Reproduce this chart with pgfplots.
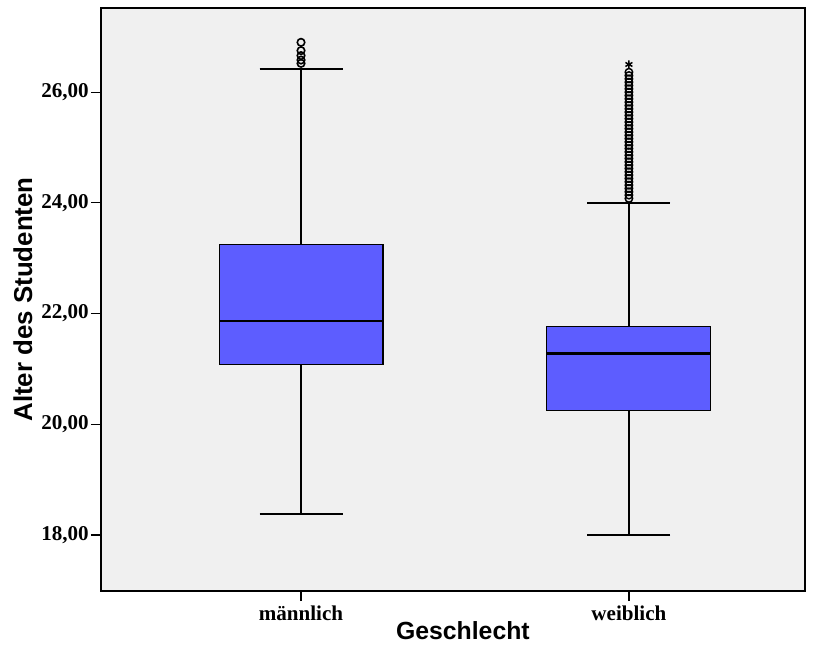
\documentclass[border=0pt]{standalone}
\usepackage{pgfplots}
\pgfplotsset{compat=1.18}
\usepgfplotslibrary{statistics}
\usepackage{fontspec}
\setmainfont{Liberation Serif}
\newfontfamily\arialfont{Liberation Sans}
\definecolor{boxblue}{RGB}{93,93,255}
\definecolor{bgray}{RGB}{240,240,240}
\begin{document}
\begin{tikzpicture}
\begin{axis}[
  scale only axis, width=528pt, height=437.25pt,
  xmin=0.39, xmax=2.537, ymin=16.99, ymax=27.52,
  boxplot/draw direction=y,
  axis background/.style={fill=bgray},
  xtick={1,2}, xticklabels={männlich,weiblich},
  ytick={18,20,22,24,26}, yticklabels={{18,00},{20,00},{22,00},{24,00},{26,00}},
  tick align=outside, tick pos=left, major tick length=7.5pt,
  ticklabel style={font=\fontsize{15.8}{18}\selectfont\bfseries},
  yticklabel style={inner xsep=1.5pt},
  xlabel={Geschlecht}, ylabel={Alter des Studenten},
  every axis y label/.style={at={(axis description cs:-0.1108,0.5)},rotate=90,anchor=center,font=\arialfont\fontsize{19.4}{22}\selectfont\bfseries},
  every axis x label/.style={at={(axis description cs:0.514,-0.0686)},anchor=center,font=\arialfont\fontsize{18.6}{21}\selectfont\bfseries},
  axis line style={line width=0.9pt}, tick style={line width=0.9pt,black},
]
\addplot[boxplot prepared={draw position=1, lower whisker=18.38, lower quartile=21.08, median=21.86, upper quartile=23.25, upper whisker=26.42, box extend=0.5, whisker extend=0.253, every median/.style={line width=1.6pt}, every whisker/.style={line width=1.05pt}, every box/.style={line width=0.8pt}}, fill=boxblue, draw=black] coordinates {};
\addplot[boxplot prepared={draw position=2, lower whisker=18.00, lower quartile=20.25, median=21.28, upper quartile=21.77, upper whisker=24.00, box extend=0.5, whisker extend=0.253, every median/.style={line width=1.6pt}, every whisker/.style={line width=1.05pt}, every box/.style={line width=0.8pt}}, fill=boxblue, draw=black] coordinates {};
\addplot[only marks, mark=o, mark size=2.8pt, line width=1.2pt, black] coordinates {(1,26.52)(1,26.58)(1,26.66)(1,26.75)(1,26.90)};
\addplot[only marks, mark=o, mark size=2.8pt, line width=1.1pt, black] coordinates {
(2,24.08)(2,24.14)(2,24.20)(2,24.26)(2,24.32)(2,24.38)(2,24.44)(2,24.50)(2,24.56)(2,24.62)
(2,24.68)(2,24.74)(2,24.80)(2,24.86)(2,24.92)(2,24.98)(2,25.04)(2,25.10)(2,25.16)(2,25.22)
(2,25.28)(2,25.34)(2,25.40)(2,25.46)(2,25.52)(2,25.58)(2,25.64)(2,25.70)(2,25.76)(2,25.82)
(2,25.88)(2,25.94)(2,26.00)(2,26.06)(2,26.12)(2,26.18)(2,26.24)(2,26.30)(2,26.36)};
\addplot[only marks, mark=asterisk, mark size=3pt, line width=1.1pt, black] coordinates {(2,26.50)};
\end{axis}
\path ([xshift=-75.75pt,yshift=-51.75pt]current axis.south west) rectangle ([xshift=8.25pt,yshift=6pt]current axis.north east);
\end{tikzpicture}
\end{document}
